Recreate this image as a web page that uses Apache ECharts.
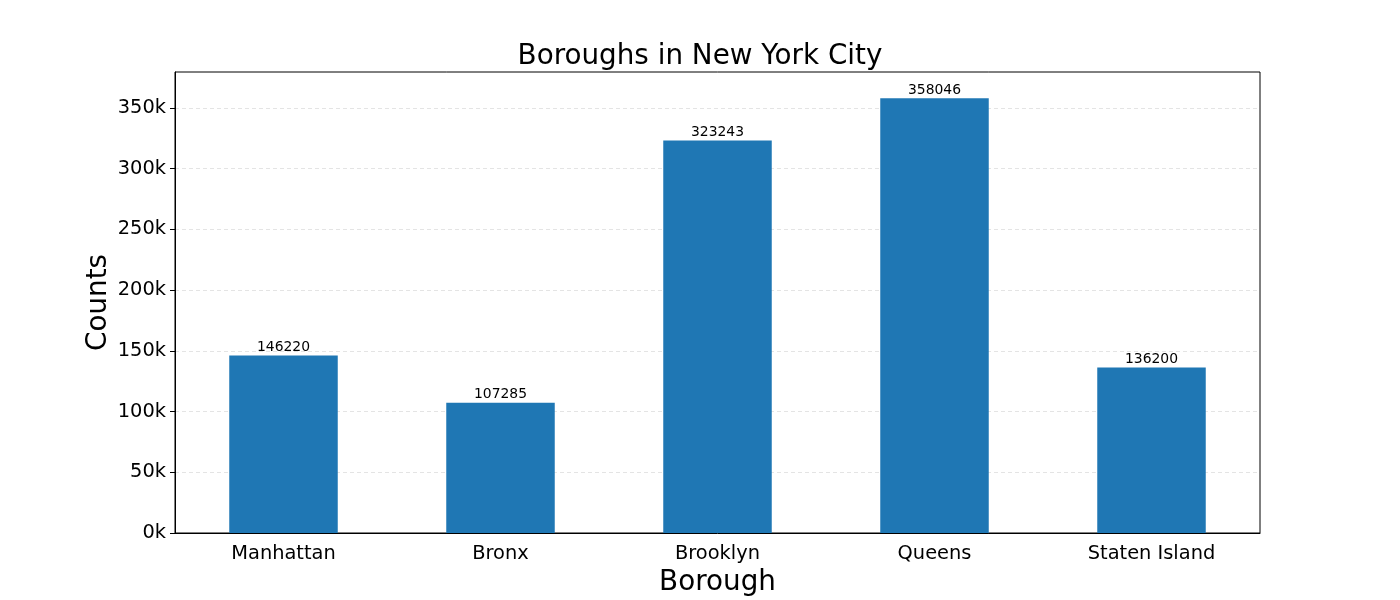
<!DOCTYPE html>
<html>
<head>
<meta charset="utf-8">
<script src="https://cdn.jsdelivr.net/npm/echarts@6/dist/echarts.min.js"></script>
<style>
html,body{margin:0;padding:0;background:#fff;}
#c{width:1400px;height:600px;}
</style>
</head>
<body>
<div id="c"></div>
<script>
const categories = ['Manhattan', 'Bronx', 'Brooklyn', 'Queens', 'Staten Island'];
const counts = [146220, 107285, 323243, 358046, 136200];
const yTicks = [0, 50000, 100000, 150000, 200000, 250000, 300000, 350000];
const yMax = 379600;

const chart = echarts.init(document.getElementById('c'), null, {renderer: 'canvas'});
const font = 'DejaVu Sans';
chart.setOption({
  animation: false,
  backgroundColor: '#fff',
  title: {
    text: 'Boroughs in New York City',
    left: 'center',
    top: 38,
    textStyle: {fontFamily: font, fontSize: 27.8, fontWeight: 'normal', color: '#000'}
  },
  grid: {
    left: 175, right: 140, top: 72, bottom: 67,
    containLabel: false,
    outerBoundsMode: 'none',
    show: true, borderColor: '#000', borderWidth: 1, backgroundColor: 'transparent'
  },
  xAxis: {
    type: 'category',
    data: categories,
    name: 'Borough',
    nameLocation: 'middle',
    nameGap: 36,
    nameMoveOverlap: false,
    nameTextStyle: {fontFamily: font, fontSize: 27.8, color: '#000'},
    axisLine: {lineStyle: {color: '#000', width: 1}},
    axisTick: {alignWithLabel: true, length: 5, lineStyle: {color: '#000'}},
    axisLabel: {fontFamily: font, fontSize: 19.4, color: '#000', margin: 11},
    splitLine: {show: false}
  },
  yAxis: {
    type: 'value',
    min: 0,
    max: yMax,
    interval: 50000,
    name: 'Counts',
    nameLocation: 'middle',
    nameGap: 62,
    nameMoveOverlap: false,
    nameTextStyle: {fontFamily: font, fontSize: 27.8, color: '#000'},
    axisLine: {show: true, lineStyle: {color: '#000', width: 1}},
    axisTick: {show: true, length: 5, lineStyle: {color: '#000'}, customValues: yTicks},
    axisLabel: {
      fontFamily: font, fontSize: 19.4, color: '#000', margin: 9,
      customValues: yTicks,
      formatter: v => (v / 1000).toFixed(0) + 'k'
    },
    splitLine: {show: true, lineStyle: {color: '#dddddd', width: 0.8, type: [4, 3]}}
  },
  series: [{
    type: 'bar',
    data: counts,
    barWidth: '50%',
    itemStyle: {color: '#1f77b4'},
    label: {
      show: true,
      position: 'top',
      distance: 1,
      fontFamily: font,
      fontSize: 13.9,
      color: '#000'
    }
  }]
});
</script>
</body>
</html>
